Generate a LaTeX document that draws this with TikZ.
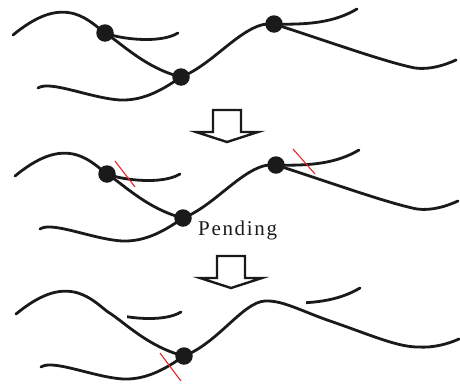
\documentclass[tikz,border=0pt]{standalone}
\usepackage{fontspec}
\setmainfont{Liberation Serif}
\newfontfamily\labelfont[LetterSpace=8]{Liberation Serif}
\usepackage{xcolor}
\usepackage{tikz}
\usetikzlibrary{backgrounds,positioning}
\definecolor{strandcolor}{HTML}{1A1A1A}
\definecolor{cutcolor}{HTML}{E8262B}
\tikzset{
  strand/.style={
    draw=strandcolor,
    line width=2.8pt,
    line cap=round
  },
  junction/.style={
    circle,
    fill=strandcolor,
    minimum size=17.5pt,
    inner sep=0pt
  },
  cut mark/.style={
    draw=cutcolor,
    line width=1.1pt
  },
  merge arrow/.style={
    draw=strandcolor,
    fill=white,
    line width=2.4pt,
    line join=miter
  },
  state label/.style={
    font=\labelfont\fontsize{21}{21}\selectfont,
    text=strandcolor,
    inner sep=0pt,
    anchor=base west
  }
}
\newcommand{\strandset}[1]{%
  \node[junction] (#1-1) at (105,33) {};
  \node[junction] (#1-2) at (181,77) {};
  \node[junction] (#1-3) at (274,24) {};
  \begin{scope}[on background layer]
    \draw[strand] (13,35) .. controls (35,17) and (55,8) .. (75,14)
      .. controls (88,18) and (97,27) .. (#1-1.center);
    \draw[strand] (#1-1.center) .. controls (120,42) and (145,68) .. (#1-2.center);
    \draw[strand] (#1-1.center) .. controls (120,39) and (160,44) .. (178,33);
    \draw[strand] (38,88) .. controls (50,80) and (90,98) .. (120,100)
      .. controls (145,101) and (165,88) .. (#1-2.center);
    \draw[strand] (#1-2.center) .. controls (215,64) and (245,20) .. (#1-3.center);
    \draw[strand] (#1-3.center) .. controls (310,25) and (335,22) .. (357,9);
    \draw[strand] (#1-3.center) .. controls (330,42) and (385,62) .. (415,68)
      .. controls (430,70) and (445,65) .. (456,60);
  \end{scope}
}
\newcommand{\mergearrow}[3]{%
  \coordinate (#1) at (#2,#3);
  \draw[merge arrow] (#1) -- ++(28,0) -- ++(0,22) -- ++(17,0) -- ++(-31,10)
    -- ++(-31,-10) -- ++(17,0) -- cycle;
}

\begin{document}
\begin{tikzpicture}[x=1pt,y=-1pt]
  \useasboundingbox (0,0) rectangle (460,383);

  % before
  \strandset{A}

  \mergearrow{M-1}{213}{110}

  % pending
  \begin{scope}[shift={(2,141)}]
    \strandset{B}
    \draw[cut mark] (113,20) -- (133,46);
    \draw[cut mark] (291,8) -- (313,33);
    \node[state label] (pending) at (196,94) {Pending};
  \end{scope}

  \mergearrow{M-2}{217}{256}

  % after
  \begin{scope}[shift={(3,279)}]
    \coordinate (C-1) at (105,33);
    \node[junction] (C-2) at (181,77) {};
    \coordinate (C-3) at (274,24);
    \begin{scope}[on background layer]
      \draw[strand] (13,35) .. controls (35,17) and (55,8) .. (75,14)
        .. controls (88,18) and (97,27) .. (C-1)
        .. controls (120,42) and (145,68) .. (C-2.center)
        .. controls (215,64) and (240,23) .. (262,22)
        .. controls (280,21) and (300,33) .. (330,43)
        .. controls (370,57) and (395,68) .. (415,68)
        .. controls (430,69) and (445,65) .. (456,60);
      \draw[strand] (38,88) .. controls (50,80) and (90,98) .. (120,100)
        .. controls (145,101) and (165,88) .. (C-2.center);
      \begin{scope}
        \clip (124,0) rectangle (200,60);
        \draw[strand] (C-1) .. controls (120,39) and (160,44) .. (178,33);
      \end{scope}
      \begin{scope}
        \clip (303,-5) rectangle (380,40);
        \draw[strand] (C-3) .. controls (310,25) and (335,22) .. (357,9);
      \end{scope}
    \end{scope}
    \draw[cut mark] (157,74) -- (178,102);
  \end{scope}
\end{tikzpicture}
\end{document}
